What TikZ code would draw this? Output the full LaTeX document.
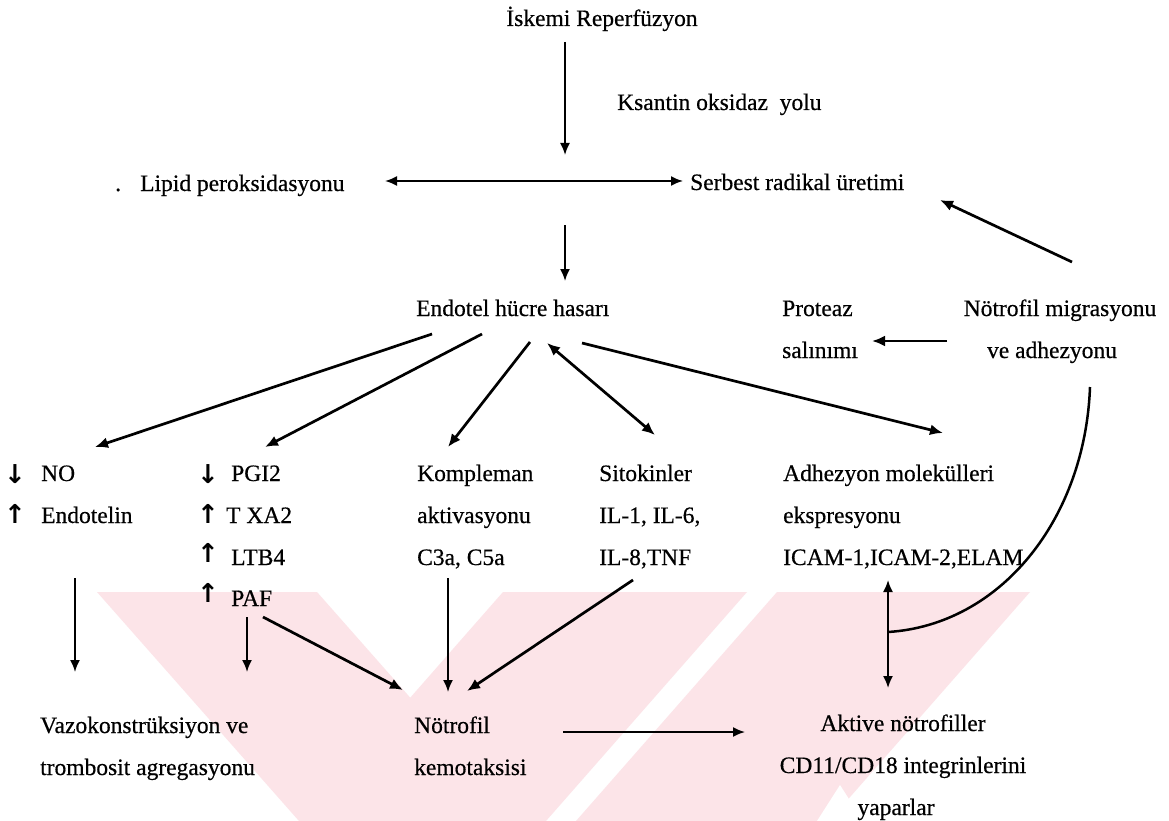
\documentclass[tikz,border=0pt]{standalone}
\usepackage{fontspec}
\setmainfont{Liberation Serif}[FakeBold=0.5]
\newfontfamily\scanfont{Liberation Serif}[FakeBold=0.5]
\newfontfamily\symfont{DejaVu Sans}
\usetikzlibrary{arrows.meta}
\definecolor{wm}{RGB}{252,228,232}
\tikzset{
  txt/.style={inner sep=0pt, anchor=base west, font=\scanfont\fontsize{23.5}{28}\selectfont},
  ctxt/.style={txt, anchor=base},
  sym/.style={inner sep=0pt, anchor=center, font=\symfont\bfseries\fontsize{26}{28}\selectfont},
  thinarrow/.style={line width=1.8pt, -{Latex[length=12pt,width=10pt]}},
  thickarrow/.style={line width=2.7pt, -{Latex[length=13pt,width=11pt]}},
  thinboth/.style={line width=1.8pt, {Latex[length=12pt,width=10pt]}-{Latex[length=12pt,width=10pt]}},
  thickboth/.style={line width=2.7pt, {Latex[length=13pt,width=11pt]}-{Latex[length=13pt,width=11pt]}},
  wmark/.style={fill=wm, draw=none},
}
\begin{document}
\begin{tikzpicture}[x=1pt,y=-1pt]
\useasboundingbox (0,0) rectangle (1169,821);
\fill[white] (0,0) rectangle (1169,821);
% watermark
\fill[wmark] (97,592) -- (317,592) -- (519,821) -- (299,821) -- cycle;
\fill[wmark] (503,592) -- (747,592) -- (546,821) -- (302,821) -- cycle;
\fill[wmark] (777,592) -- (1030,592) -- (829,821) -- (576,821) -- cycle;
\fill[white] (817,821) -- (840,785) -- (863,821) -- cycle;

% texts
\node[ctxt] (isk) at (602,26) {İskemi Reperfüzyon};
\node[txt] (ksa) at (617,110) {Ksantin oksidaz\ \ yolu};
\node[txt] (dot) at (115,191) {.};
\node[txt] (lip) at (140,191) {Lipid peroksidasyonu};
\node[txt] (ser) at (690,190) {Serbest radikal üretimi};
\node[txt] (end) at (416,316) {Endotel hücre hasarı};
\node[txt] (pro1) at (782,316) {Proteaz};
\node[txt] (pro2) at (782,358) {salınımı};
\node[ctxt] (not1) at (1060,316) {Nötrofil migrasyonu};
\node[ctxt] (not2) at (1052,358) {ve adhezyonu};

\node[sym] (s1) at (15,474) {↓};
\node[txt] (no) at (41,481) {NO};
\node[sym] (s2) at (15,514) {↑};
\node[txt] (et) at (41,523) {Endotelin};
\node[sym] (s3) at (208,474) {↓};
\node[txt] (pg) at (231,481) {PGI2};
\node[sym] (s4) at (208,514) {↑};
\node[txt] (tx) at (226,523) {T XA2};
\node[sym] (s5) at (208,553) {↑};
\node[txt] (lt) at (231,565) {LTB4};
\node[sym] (s6) at (208,593) {↑};
\node[txt] (paf) at (231,606) {PAF};

\node[txt] (ko1) at (417,481) {Kompleman};
\node[txt] (ko2) at (417,523) {aktivasyonu};
\node[txt] (ko3) at (417,565) {C3a, C5a};
\node[txt] (si1) at (599,481) {Sitokinler};
\node[txt] (si2) at (599,523) {IL-1, IL-6,};
\node[txt] (si3) at (599,565) {IL-8,TNF};
\node[txt] (ad1) at (783,481) {Adhezyon molekülleri};
\node[txt] (ad2) at (783,523) {ekspresyonu};
\node[txt] (ad3) at (783,565) {ICAM-1,ICAM-2,ELAM};

\node[txt] (va1) at (40,733) {Vazokonstrüksiyon ve};
\node[txt] (va2) at (40,775) {trombosit agregasyonu};
\node[txt] (ne1) at (414,733) {Nötrofil};
\node[txt] (ne2) at (414,775) {kemotaksisi};
\node[ctxt] (ak1) at (903,731) {Aktive nötrofiller};
\node[ctxt] (ak2) at (903,773) {CD11/CD18 integrinlerini};
\node[ctxt] (ak3) at (896,815) {yaparlar};

% connector end points
\coordinate (a1s) at (565,42);   \coordinate (a1e) at (565,155);
\coordinate (h1s) at (385,181);  \coordinate (h1e) at (683,181);
\coordinate (a2s) at (565,225);  \coordinate (a2e) at (565,281);
\coordinate (nms) at (1072,262); \coordinate (nme) at (940,200);
\coordinate (prs) at (947,341);  \coordinate (pre) at (872,341);
\coordinate (f1s) at (432,334);  \coordinate (f1e) at (95,447);
\coordinate (f2s) at (482,334);  \coordinate (f2e) at (265,447);
\coordinate (f3s) at (530,342);  \coordinate (f3e) at (448,447);
\coordinate (f4s) at (547,343);  \coordinate (f4e) at (655,435);
\coordinate (f5s) at (582,343);  \coordinate (f5e) at (943,433);
\coordinate (cvs) at (1090,387); \coordinate (cve) at (888,632);
\coordinate (vds) at (888,580);  \coordinate (vde) at (888,688);
\coordinate (e1s) at (75,578);   \coordinate (e1e) at (75,672);
\coordinate (p1s) at (247,617);  \coordinate (p1e) at (247,672);
\coordinate (p2s) at (263,617);  \coordinate (p2e) at (403,690);
\coordinate (k1s) at (448,578);  \coordinate (k1e) at (448,692);
\coordinate (i1s) at (633,580);  \coordinate (i1e) at (467,691);
\coordinate (n1s) at (563,732);  \coordinate (n1e) at (745,732);

\draw[thinarrow] (a1s) -- (a1e);
\draw[thinboth] (h1s) -- (h1e);
\draw[thinarrow] (a2s) -- (a2e);
\draw[thickarrow] (nms) -- (nme);
\draw[thickarrow] (prs) -- (pre);
\draw[thickarrow] (f1s) -- (f1e);
\draw[thickarrow] (f2s) -- (f2e);
\draw[thickarrow] (f3s) -- (f3e);
\draw[thickboth] (f4s) -- (f4e);
\draw[thickarrow] (f5s) -- (f5e);
\draw[line width=2.5pt] (cvs) .. controls (1085,520) and (1000,625) .. (cve);
\draw[thinboth] (vds) -- (vde);
\draw[thinarrow] (e1s) -- (e1e);
\draw[thinarrow] (p1s) -- (p1e);
\draw[thickarrow] (p2s) -- (p2e);
\draw[thinarrow] (k1s) -- (k1e);
\draw[thickarrow] (i1s) -- (i1e);
\draw[thinarrow] (n1s) -- (n1e);
\end{tikzpicture}
\end{document}
